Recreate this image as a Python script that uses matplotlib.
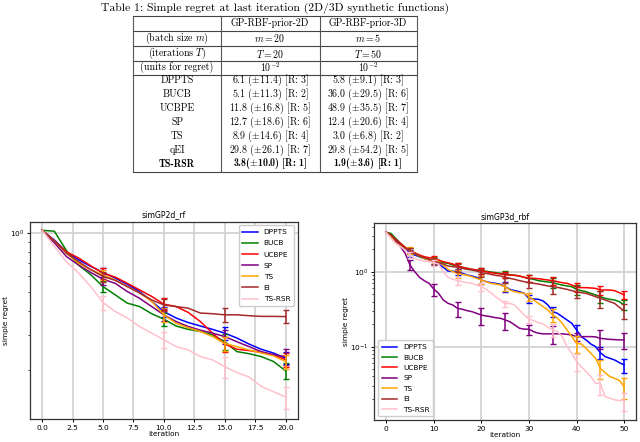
import numpy as np
import matplotlib
matplotlib.use('Agg')
import matplotlib.pyplot as plt
import matplotlib.ticker as mticker
from matplotlib.lines import Line2D

plt.rcParams['mathtext.fontset'] = 'cm'

# ---------------- table data ----------------
table_title = "Table 1: Simple regret at last iteration (2D/3D synthetic functions)"
col_headers = ["", "GP-RBF-prior-2D", "GP-RBF-prior-3D"]
setting_rows = [
    ["(batch size $m$)", "$m = 20$", "$m = 5$"],
    ["(iterations $T$)", "$T = 20$", "$T = 50$"],
    ["(units for regret)", "$10^{-2}$", "$10^{-2}$"],
]
table_methods = ["DPPTS", "BUCB", "UCBPE", "SP", "TS", "qEI", "TS-RSR"]
regret_2d = [6.1, 5.1, 11.8, 12.7, 8.9, 29.8, 3.8]
std_2d = [11.4, 11.3, 16.8, 18.6, 14.6, 26.1, 10.0]
rank_2d = [3, 2, 5, 6, 4, 7, 1]
regret_3d = [5.8, 36.0, 48.9, 12.4, 3.0, 29.8, 1.9]
std_3d = [9.1, 29.5, 35.5, 20.6, 6.8, 54.2, 3.6]
rank_3d = [3, 6, 7, 4, 2, 5, 1]

# ---------------- plot data ----------------
methods = ["DPPTS", "BUCB", "UCBPE", "SP", "TS", "EI", "TS-RSR"]
colors = ["blue", "green", "red", "purple", "orange", "brown", "pink"]

iters_2d = list(range(21))
dppts_2d = [1.03, 0.92, 0.80, 0.728, 0.674, 0.628, 0.588, 0.546, 0.502, 0.448, 0.397,
            0.368, 0.349, 0.335, 0.322, 0.308, 0.291, 0.271, 0.255, 0.244, 0.2295]
bucb_2d = [1.03, 1.02, 0.811, 0.685, 0.611, 0.532, 0.483, 0.438, 0.421, 0.387, 0.363,
           0.335, 0.322, 0.314, 0.302, 0.2785, 0.248, 0.242, 0.234, 0.221, 0.198]
ucbpe_2d = [1.03, 0.91, 0.80, 0.744, 0.679, 0.623, 0.595, 0.553, 0.512, 0.474, 0.433,
            0.421, 0.393, 0.353, 0.308, 0.271, 0.255, 0.251, 0.246, 0.239, 0.2255]
sp_2d = [1.03, 0.89, 0.757, 0.685, 0.628, 0.580, 0.553, 0.502, 0.464, 0.421, 0.382,
         0.353, 0.333, 0.319, 0.308, 0.296, 0.2785, 0.263, 0.248, 0.239, 0.234]
ts_2d = [1.03, 0.91, 0.787, 0.699, 0.649, 0.611, 0.575, 0.532, 0.494, 0.448, 0.382,
         0.346, 0.328, 0.314, 0.296, 0.273, 0.263, 0.253, 0.244, 0.236, 0.221]
ei_2d = [1.03, 0.91, 0.787, 0.712, 0.649, 0.599, 0.573, 0.532, 0.494, 0.455, 0.429,
         0.421, 0.413, 0.390, 0.387, 0.382, 0.382, 0.378, 0.375, 0.375, 0.374]
tsrsr_2d = [1.03, 0.853, 0.712, 0.623, 0.532, 0.441, 0.397, 0.368, 0.333, 0.308, 0.285,
            0.263, 0.253, 0.234, 0.225, 0.208, 0.194, 0.184, 0.165, 0.155, 0.1455]
err_iters_2d = [5, 10, 15, 20]
dppts_err_2d = [0.033, 0.024, 0.025, 0.016]
bucb_err_2d = [0.034, 0.029, 0.025, 0.019]
ucbpe_err_2d = [0.038, 0.030, 0.024, 0.018]
sp_err_2d = [0.040, 0.026, 0.024, 0.023]
ts_err_2d = [0.037, 0.031, 0.022, 0.018]
ei_err_2d = [0.036, 0.031, 0.031, 0.028]
tsrsr_err_2d = [0.037, 0.026, 0.026, 0.019]

iters_3d = list(range(51))
dppts_3d = [3.35, 3.08, 2.64, 2.27, 1.99, 1.75, 1.67, 1.585, 1.506, 1.431, 1.359,
            1.265, 1.142, 1.02, 1.01, 1.0, 0.95, 0.903, 0.876, 0.840, 0.774,
            0.736, 0.713, 0.699, 0.678, 0.631, 0.581, 0.558, 0.541, 0.514, 0.441,
            0.432, 0.428, 0.406, 0.359, 0.293, 0.278, 0.251, 0.227, 0.205, 0.167,
            0.136, 0.123, 0.1085, 0.100, 0.0832, 0.0736, 0.0699, 0.0664, 0.0612, 0.0570]
bucb_3d = [3.35, 3.24, 2.78, 2.39, 2.11, 1.886, 1.75, 1.585, 1.506, 1.46, 1.431,
           1.359, 1.318, 1.292, 1.227, 1.19, 1.142, 1.108, 1.074, 1.052, 1.031,
           1.01, 0.99, 0.97, 0.95, 0.931, 0.912, 0.894, 0.876, 0.840, 0.815,
           0.79, 0.759, 0.743, 0.728, 0.713, 0.685, 0.664, 0.644, 0.631, 0.581,
           0.558, 0.541, 0.514, 0.489, 0.464, 0.441, 0.428, 0.419, 0.398, 0.359]
ucbpe_3d = [3.35, 3.08, 2.70, 2.39, 2.11, 1.94, 1.79, 1.67, 1.585, 1.537, 1.506,
            1.431, 1.359, 1.318, 1.265, 1.19, 1.142, 1.108, 1.074, 1.052, 1.031,
            1.0, 0.97, 0.95, 0.931, 0.903, 0.903, 0.894, 0.876, 0.840, 0.815,
            0.815, 0.806, 0.79, 0.774, 0.759, 0.736, 0.713, 0.699, 0.664, 0.618,
            0.612, 0.612, 0.606, 0.599, 0.570, 0.570, 0.570, 0.558, 0.525, 0.489]
sp_3d = [3.35, 2.93, 2.51, 2.15, 1.75, 1.227, 1.0, 0.840, 0.759, 0.699, 0.587,
         0.514, 0.419, 0.378, 0.359, 0.324, 0.315, 0.302, 0.293, 0.278, 0.264,
         0.256, 0.251, 0.243, 0.239, 0.227, 0.215, 0.195, 0.176, 0.171, 0.171,
         0.158, 0.151, 0.148, 0.148, 0.148, 0.148, 0.148, 0.146, 0.143, 0.136,
         0.136, 0.136, 0.136, 0.135, 0.129, 0.127, 0.125, 0.124, 0.123, 0.123]
ts_3d = [3.35, 2.93, 2.39, 2.20, 2.05, 1.94, 1.75, 1.618, 1.506, 1.431, 1.402,
         1.359, 1.227, 1.074, 1.0, 0.95, 0.921, 0.894, 0.858, 0.815, 0.774,
         0.736, 0.699, 0.685, 0.664, 0.631, 0.570, 0.541, 0.525, 0.514, 0.464,
         0.419, 0.378, 0.341, 0.308, 0.264, 0.239, 0.205, 0.167, 0.136, 0.111,
         0.1085, 0.095, 0.0815, 0.0699, 0.0514, 0.0450, 0.0398, 0.0378, 0.0354, 0.0293]
ei_3d = [3.35, 3.08, 2.64, 2.31, 2.05, 1.905, 1.75, 1.618, 1.537, 1.46, 1.402,
         1.318, 1.265, 1.19, 1.166, 1.142, 1.108, 1.074, 1.052, 1.02, 0.97,
         0.95, 0.921, 0.894, 0.876, 0.840, 0.815, 0.79, 0.759, 0.736, 0.713,
         0.699, 0.685, 0.664, 0.644, 0.631, 0.618, 0.599, 0.581, 0.558, 0.541,
         0.525, 0.514, 0.489, 0.464, 0.441, 0.419, 0.398, 0.378, 0.334, 0.302]
tsrsr_3d = [3.35, 2.78, 2.39, 2.15, 1.94, 1.67, 1.506, 1.431, 1.388, 1.359, 1.318,
            1.265, 1.0, 0.840, 0.79, 0.759, 0.736, 0.713, 0.699, 0.664, 0.631,
            0.581, 0.525, 0.464, 0.419, 0.371, 0.378, 0.359, 0.308, 0.264, 0.232,
            0.222, 0.209, 0.200, 0.181, 0.167, 0.158, 0.136, 0.100, 0.0815, 0.0631,
            0.0541, 0.0464, 0.0398, 0.0324, 0.0324, 0.0215, 0.0205, 0.0195, 0.0191, 0.0191]
err_iters_3d = [5, 10, 15, 20, 25, 30, 35, 40, 45, 50]
dppts_err_3d = [0.18, 0.14, 0.10, 0.095, 0.097, 0.054, 0.045, 0.027, 0.0145, 0.012]
bucb_err_3d = [0.154, 0.146, 0.122, 0.105, 0.095, 0.083, 0.109, 0.089, 0.085, 0.055]
ucbpe_err_3d = [0.159, 0.123, 0.122, 0.105, 0.092, 0.083, 0.10, 0.082, 0.076, 0.06]
sp_err_3d = [0.188, 0.108, 0.073, 0.068, 0.058, 0.026, 0.038, 0.017, 0.037, 0.031]
ts_err_3d = [0.2, 0.143, 0.117, 0.095, 0.077, 0.057, 0.049, 0.028, 0.0147, 0.009]
ei_err_3d = [0.156, 0.143, 0.14, 0.119, 0.129, 0.109, 0.129, 0.10, 0.113, 0.068]
tsrsr_err_3d = [0.17, 0.135, 0.093, 0.077, 0.038, 0.028, 0.034, 0.016, 0.0099, 0.0052]

series_2d = [dppts_2d, bucb_2d, ucbpe_2d, sp_2d, ts_2d, ei_2d, tsrsr_2d]
errs_2d = [dppts_err_2d, bucb_err_2d, ucbpe_err_2d, sp_err_2d, ts_err_2d, ei_err_2d, tsrsr_err_2d]
series_3d = [dppts_3d, bucb_3d, ucbpe_3d, sp_3d, ts_3d, ei_3d, tsrsr_3d]
errs_3d = [dppts_err_3d, bucb_err_3d, ucbpe_err_3d, sp_err_3d, ts_err_3d, ei_err_3d, tsrsr_err_3d]

# ---------------- figure ----------------
W, H = 640, 442
fig = plt.figure(figsize=(6.4, 4.42), dpi=100)

def fx(x):
    return x / W

def fy(y):
    return 1 - y / H

# --- table ---
serif = 'cmr10'
fig.text(fx(275), fy(8), table_title, ha='center', va='center',
         fontsize=8.4, family=serif)
tx0, tx1, tx2, tx3 = 133, 221, 320, 417
col_cx = [177, 270, 368]
hlines = [16, 31, 46, 61, 75, 172]
for y in hlines:
    fig.add_artist(Line2D([fx(tx0), fx(tx3)], [fy(y), fy(y)], color='#444444', lw=0.8))
for x in [tx0, tx1, tx2, tx3]:
    fig.add_artist(Line2D([fx(x), fx(x)], [fy(16), fy(172)], color='#555555', lw=0.8))

tfs = 7.15
for cx, txt in zip(col_cx, col_headers):
    fig.text(fx(cx), fy(23.5), txt, ha='center', va='center', fontsize=tfs, family=serif)
for ry, row in zip([38.5, 53.5, 67], setting_rows):
    for cx, txt in zip(col_cx, row):
        fig.text(fx(cx), fy(ry), txt, ha='center', va='center', fontsize=tfs, family=serif)

body_y = [80.5, 94.4, 108.3, 122.2, 136.1, 150, 163.9]
for i, name in enumerate(table_methods):
    bold = (name == "TS-RSR")
    fam = 'cmb10' if bold else serif
    sep = "" if bold else " "
    c2 = f"{regret_2d[i]:.1f}{sep}($\\pm${std_2d[i]:.1f}) [R: {rank_2d[i]}]"
    c3 = f"{regret_3d[i]:.1f}{sep}($\\pm${std_3d[i]:.1f}) [R: {rank_3d[i]}]"
    for cx, txt in zip(col_cx, [name, c2, c3]):
        fig.text(fx(cx), fy(body_y[i]), txt, ha='center', va='center',
                 fontsize=tfs, family=fam)

# --- plots ---
fs = 5.3
ax1 = fig.add_axes([fx(30), fy(419.3), fx(297.7 - 30), (419.3 - 221.7) / H])
ax2 = fig.add_axes([fx(374.3), fy(420), fx(636 - 374.3), (420 - 223.3) / H])

def draw(ax, iters, series, errs, err_iters, title, loc, lspace):
    for name, col, ys, es in zip(methods, colors, series, errs):
        ax.plot(iters, ys, color=col, lw=1.1, label=name)
        ysub = [ys[i] for i in err_iters]
        ax.errorbar(err_iters, ysub, yerr=es, fmt='none', ecolor=col,
                    elinewidth=1.1, capsize=2, capthick=1.0)
    ax.set_yscale('log')
    ax.set_title(title, fontsize=5.6, pad=3)
    ax.set_xlabel('iteration', fontsize=fs, labelpad=0)
    ax.set_ylabel('simple regret', fontsize=fs, labelpad=1)
    ax.tick_params(labelsize=fs, length=2.5, width=0.7, pad=1.5)
    ax.tick_params(which='minor', length=1.5, width=0.5)
    ax.grid(True, which='major', color='#d0d0d0', lw=1.2)
    for s in ax.spines.values():
        s.set_linewidth(0.9)
        s.set_color('#333333')
    ax.legend(loc=loc, fontsize=fs, handlelength=2.1, labelspacing=lspace,
              borderpad=0.5, framealpha=1.0)

draw(ax1, iters_2d, series_2d, errs_2d, err_iters_2d, 'simGP2d_rf', 'upper right', 0.68)
ax1.set_ylim(0.112, 1.14)
ax1.set_xticks([0, 2.5, 5, 7.5, 10, 12.5, 15, 17.5, 20])
ax1.xaxis.set_major_formatter(mticker.FormatStrFormatter('%.1f'))
draw(ax2, iters_3d, series_3d, errs_3d, err_iters_3d, 'simGP3d_rbf', 'lower left', 0.58)
ax2.set_ylim(0.0105, 4.42)

fig.savefig('out.png', dpi=100)
